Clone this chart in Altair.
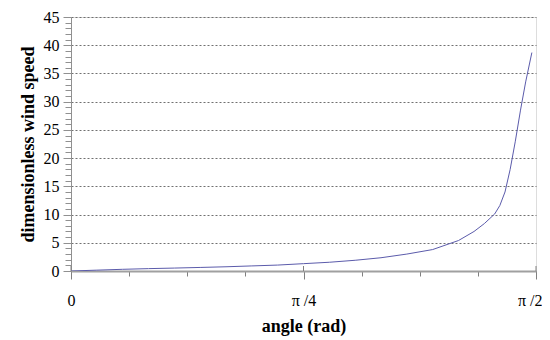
import json
import math
import altair as alt
import pandas as pd

# ---- data ----
angle_deg = [0, 5, 10, 15, 20, 25, 30, 35, 40, 45, 50, 55, 60, 65, 70, 75, 78, 80, 82, 83, 84, 85, 86, 87, 88, 89.2]
speed = [0, 0.15, 0.3, 0.42, 0.52, 0.63, 0.75, 0.9, 1.05, 1.3, 1.55, 1.9, 2.35, 3.0, 3.8, 5.4, 7.0, 8.4, 10.1, 11.6, 14.0, 18.0, 23.0, 28.5, 33.5, 38.7]

x_major = [0, math.pi / 4, math.pi / 2]
x_major_labels = ["0", "\u03c0 /4", "\u03c0 /2"]
x_minor = [k * math.pi / 16 for k in range(9)]
y_major = list(range(0, 50, 5))
y_minor = list(range(0, 46))

W, H = 465, 254
FONT = "Liberation Serif"

df = pd.DataFrame({"angle": [d * math.pi / 180 for d in angle_deg], "speed": speed})
df_ticks = pd.DataFrame({"angle": x_major})

xs = alt.Scale(domain=[0, math.pi / 2], nice=False, zero=False)
ys = alt.Scale(domain=[0, 45], nice=False)

label_expr = json.dumps(x_major_labels) + "[round(datum.value/(PI/4))]"
last_test = "datum.value > 1.5"

line = alt.Chart(df).mark_line(color="#5b5bab", strokeWidth=1, clip=True).encode(
    x=alt.X("angle:Q", scale=xs, axis=alt.Axis(
        orient="bottom", values=x_major, labelExpr=label_expr, grid=False,
        domainColor="#a0a0a0", domainWidth=2, tickColor="#808080", tickSize=8,
        labelFont=FONT, labelFontSize=16, labelColor="black", labelPadding=13,
        labelFlush=False,
        labelAlign={"condition": {"test": last_test, "value": "right"}, "value": "center"},
        labelOffset={"condition": {"test": last_test, "value": 6}, "value": 0},
        title="angle (rad)", titleFont=FONT, titleFontSize=18, titleFontWeight="bold",
        titleColor="black", titlePadding=9)),
    y=alt.Y("speed:Q", scale=ys, axis=alt.Axis(
        orient="left", values=y_major, grid=True, gridDash=[2, 2], gridColor="#707070",
        domainColor="#909090", tickColor="#909090", tickSize=8,
        labelFont=FONT, labelFontSize=16, labelColor="black", labelPadding=4,
        title="dimensionless wind speed", titleFont=FONT, titleFontSize=18,
        titleFontWeight="bold", titleColor="black", titlePadding=6)),
)

minor = alt.Chart(df).mark_point(opacity=0).encode(
    x=alt.X("angle:Q", scale=xs, axis=alt.Axis(
        orient="bottom", values=x_minor, labels=False, grid=False, domain=False,
        tickColor="#808080", tickSize=5, title=None)),
    y=alt.Y("speed:Q", scale=ys, axis=alt.Axis(
        orient="left", values=y_minor, labels=False, grid=False, domain=False,
        tickColor="#909090", tickSize=6, title=None)),
)

up_ticks = alt.Chart(df_ticks).mark_rule(color="#808080", strokeWidth=1).encode(
    x=alt.X("angle:Q", scale=xs, axis=None),
    y=alt.value(H - 5),
    y2=alt.value(H),
)

chart = alt.layer(minor, line, up_ticks).resolve_axis(x="independent", y="independent").properties(
    width=W, height=H,
    autosize=alt.AutoSizeParams(type="none"),
    padding={"left": 63, "top": 9, "right": 6, "bottom": 70},
).configure_view(stroke="#888888", strokeWidth=1).configure_axis(
    labelFont=FONT, titleFont=FONT
).configure(font=FONT)

chart.save("out.html", embed_options={"renderer": "svg", "actions": False})
